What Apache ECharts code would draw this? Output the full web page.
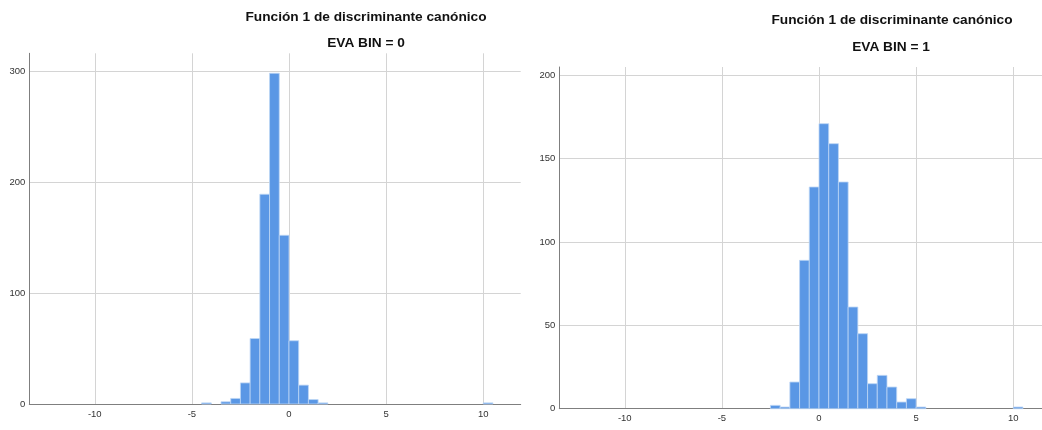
<!DOCTYPE html>
<html>
<head>
<meta charset="utf-8">
<script src="https://cdn.jsdelivr.net/npm/echarts@6/dist/echarts.min.js"></script>
<style>html,body{margin:0;padding:0;background:#fff}#c{width:1042px;height:430px}</style>
</head>
<body>
<div id="c"></div>
<script>
// Histogram bins: start of each bin (width 0.5) and counts
const binWidth = 0.5;
const bins0 = [-4.5, -3.5, -3, -2.5, -2, -1.5, -1, -0.5, 0, 0.5, 1, 1.5, 10];
const counts0 = [1, 2, 5, 19, 59, 189, 298, 152, 57, 17, 4, 1, 1];
const bins1 = [-2.5, -2, -1.5, -1, -0.5, 0, 0.5, 1, 1.5, 2, 2.5, 3, 3.5, 4, 4.5, 5, 10];
const counts1 = [2, 1, 16, 89, 133, 171, 159, 136, 61, 45, 15, 20, 13, 4, 6, 1, 1];
const xTicks = [-10, -5, 0, 5, 10];
const yTicks0 = [0, 100, 200, 300];
const yTicks1 = [0, 50, 100, 150, 200];
const titleMain = 'Función 1 de discriminante canónico';
const subTitles = ['EVA BIN = 0', 'EVA BIN = 1'];

const chart = echarts.init(document.getElementById('c'));
const W = 1042;
const FONT = 'Liberation Sans, Arial, sans-serif';

function makeData(bins, counts) {
  return bins.map((b, i) => [b, b + binWidth, counts[i]]);
}
function renderItem(params, api) {
  const p1 = api.coord([api.value(0), api.value(2)]);
  const p2 = api.coord([api.value(1), 0]);
  return {
    type: 'rect',
    shape: { x: p1[0], y: p1[1], width: p2[0] - p1[0], height: p2[1] - p1[1] },
    style: { fill: '#5a97e5', stroke: '#bcd5f5', lineWidth: 0.8 }
  };
}
function xAxis(idx, max) {
  return {
    type: 'value', gridIndex: idx, min: -13.37, max: max,
    axisLine: { show: true, onZero: false, lineStyle: { color: '#7f7f7f', width: 1 } },
    axisTick: { show: false, customValues: xTicks },
    axisLabel: { customValues: xTicks, color: '#333', fontSize: 9.5, fontFamily: FONT, margin: 5 },
    splitLine: { show: true, lineStyle: { color: '#d4d4d4', width: 1 } }
  };
}
function yAxis(idx, max, ticks) {
  return {
    type: 'value', gridIndex: idx, min: 0, max: max,
    axisLine: { show: true, onZero: false, lineStyle: { color: '#7f7f7f', width: 1 } },
    axisTick: { show: false, customValues: ticks },
    axisLabel: { customValues: ticks, color: '#333', fontSize: 9.5, fontFamily: FONT, margin: 4 },
    splitLine: { show: true, lineStyle: { color: '#d4d4d4', width: 1 } }
  };
}
const tStyle = { fontFamily: FONT, fontWeight: 'bold', fontSize: 13.7, fill: '#111', align: 'center', verticalAlign: 'middle' };

chart.setOption({
  animation: false,
  grid: [
    { left: 29.3, top: 53.3, width: 491.4, height: 350.7 },
    { left: 559.3, top: 67, width: W - 559.3, height: 341.7 }
  ],
  xAxis: [xAxis(0, 11.93), xAxis(1, 11.48)],
  yAxis: [yAxis(0, 316, yTicks0), yAxis(1, 205, yTicks1)],
  graphic: [
    { type: 'text', x: 366, y: 17, style: Object.assign({ text: titleMain }, tStyle) },
    { type: 'text', x: 366, y: 43, style: Object.assign({ text: subTitles[0] }, tStyle) },
    { type: 'text', x: 892, y: 20, style: Object.assign({ text: titleMain }, tStyle) },
    { type: 'text', x: 891, y: 47, style: Object.assign({ text: subTitles[1] }, tStyle) }
  ],
  series: [
    { type: 'custom', xAxisIndex: 0, yAxisIndex: 0, renderItem: renderItem, data: makeData(bins0, counts0), encode: { x: [0, 1], y: 2 } },
    { type: 'custom', xAxisIndex: 1, yAxisIndex: 1, renderItem: renderItem, data: makeData(bins1, counts1), encode: { x: [0, 1], y: 2 } }
  ]
});
</script>
</body>
</html>
